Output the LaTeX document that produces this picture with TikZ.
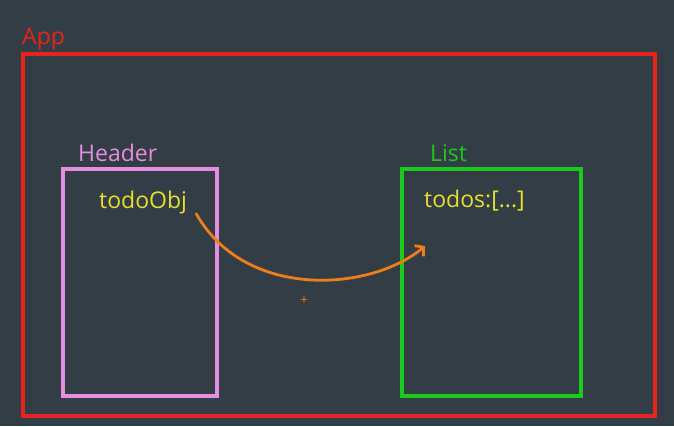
\documentclass[tikz,border=0pt]{standalone}
\usepackage{fontspec}
\setmainfont{Open Sans}
\usetikzlibrary{arrows.meta}
\definecolor{bg}{HTML}{323D46}
\definecolor{appred}{HTML}{E8231B}
\definecolor{headpink}{HTML}{E48EE0}
\definecolor{listgreen}{HTML}{1CC91C}
\definecolor{textyellow}{HTML}{E6E02C}
\definecolor{arroworange}{HTML}{EE7D1A}

\begin{document}
\begin{tikzpicture}[x=1pt, y=-1pt]
        \tikzstyle{every node}=[inner sep=0pt, font=\fontsize{23}{26}\selectfont]
        \tikzstyle{box}=[draw, rectangle, line width=3.2pt]
        \tikzstyle{label}=[anchor=base west]
        \fill[bg] (0,0) rectangle (674,426);
        \useasboundingbox (0,0) rectangle (674,426);
        \node [box, draw=appred, minimum width=632pt, minimum height=362pt] (app) at (339,235) {};
        \node [box, draw=headpink, minimum width=154pt, minimum height=227pt] (header) at (140,282.5) {};
        \node [box, draw=listgreen, minimum width=179pt, minimum height=227pt] (list) at (491.5,282.5) {};
        \node [label, text=appred] (applabel) at (22,44) {App};
        \node [label, text=headpink] (headerlabel) at (78,161) {Header};
        \node [label, text=listgreen] (listlabel) at (430,161) {List};
        \node [label, text=textyellow] (todoobj) at (99,208) {todoObj};
        \node [label, text=textyellow] (todos) at (424,207) {todos:[...]};
        \coordinate (target) at (425,246);
        \node [text=arroworange, font=\fontsize{13}{14}\selectfont] (plus) at (304,301) {+};
        \draw [arroworange, line width=2.8pt, line cap=round, -{Straight Barb[length=6pt, width=14pt]}] ([xshift=9pt]todoobj.south east) .. controls (245,300) and (370,292) .. (target);
    \end{tikzpicture}
\end{document}
